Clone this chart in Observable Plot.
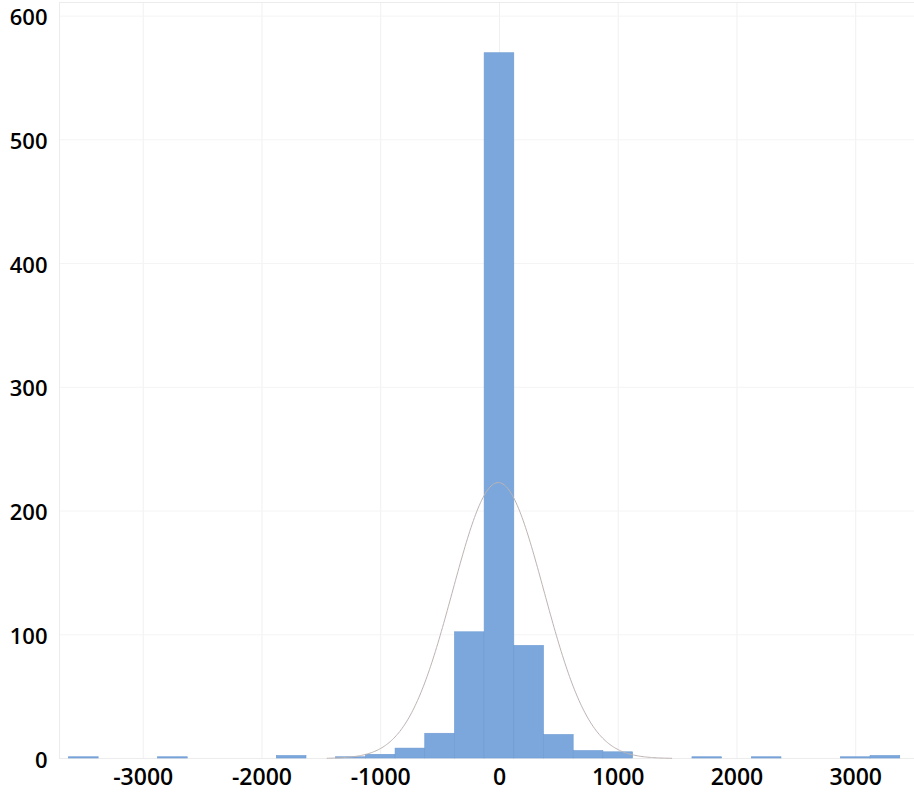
<!DOCTYPE html>
<html>
<head>
<meta charset="utf-8">
<script src="https://cdn.jsdelivr.net/npm/d3@7"></script>
<script src="https://cdn.jsdelivr.net/npm/@observablehq/plot@0.6"></script>
<style>
  html, body { margin: 0; padding: 0; background: #fff; }
  #chart svg { display: block; }
</style>
</head>
<body>
<div id="chart"></div>
<script>
// Histogram bins (start of each bin) and counts, bin width 250
const binStarts = [-3625, -2875, -1875, -1375, -1125, -875, -625, -375, -125, 125, 375, 625, 875, 1625, 2125, 2875, 3125];
const counts    = [1, 1, 2, 1, 3, 8, 20, 102, 570, 91, 19, 6, 5, 1, 1, 1, 2];
const binWidth = 250;

// Fitted normal curve parameters
const fitMean = -10;
const fitSd = 385;
const fitPeak = 223;
const fitRange = [-1450, 1450];

const xTicks = [-3000, -2000, -1000, 0, 1000, 2000, 3000];
const yTicks = [0, 100, 200, 300, 400, 500, 600];

const bins = binStarts.map((s, i) => ({x1: s, x2: s + binWidth, count: counts[i]}));
const curve = d3.range(fitRange[0], fitRange[1] + 1, 10).map(x => ({
  x, y: fitPeak * Math.exp(-((x - fitMean) ** 2) / (2 * fitSd * fitSd))
}));

const chart = Plot.plot({
  width: 914,
  height: 793,
  marginLeft: 59,
  marginRight: 0,
  marginTop: 2,
  marginBottom: 35,
  style: {fontFamily: "'Open Sans', sans-serif", fontSize: "23px", fontWeight: 600, color: "#000", background: "#fff"},
  x: {domain: [-3705, 3495], label: null},
  y: {domain: [0, 611], label: null},
  marks: [
    Plot.gridX(xTicks, {stroke: "#f0f0f0", strokeOpacity: 1, strokeWidth: 1}),
    Plot.gridY(yTicks, {stroke: "#f4f4f4", strokeOpacity: 1, strokeWidth: 1}),
    Plot.frame({stroke: "#ececec", strokeWidth: 1}),
    Plot.rectY(bins, {x1: "x1", x2: "x2", y: "count", fill: "#7ba7dc", stroke: "#6d9ad2", strokeWidth: 0.6}),
    Plot.lineY(curve, {x: "x", y: "y", stroke: "#bdb4b2", strokeWidth: 1, curve: "linear"}),
    Plot.axisX({ticks: xTicks, tickSize: 0, tickPadding: 10, tickFormat: d => d < 0 ? "-" + Math.abs(d) : String(d), label: null}),
    Plot.axisY({ticks: yTicks, tickSize: 0, tickPadding: 12, fontSize: 22, dy: 2, label: null})
  ]
});
document.getElementById("chart").appendChild(chart);
</script>
</body>
</html>
